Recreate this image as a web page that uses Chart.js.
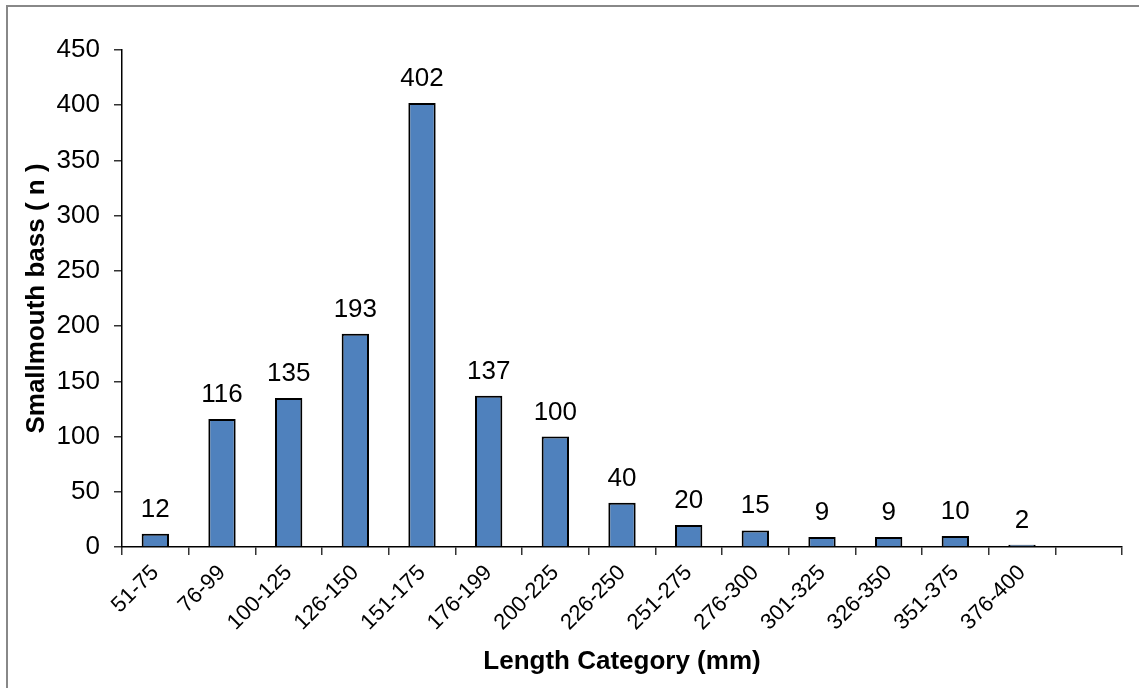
<!DOCTYPE html>
<html>
<head>
<meta charset="utf-8">
<script src="https://cdn.jsdelivr.net/npm/chart.js@4/dist/chart.umd.min.js"></script>
<style>
  html, body { margin: 0; padding: 0; background: #fff; overflow: hidden; }
  #wrap { position: relative; width: 1139px; height: 688px; }
  #frame { position: absolute; left: 6px; top: 5px; width: 1200px; height: 800px;
           border: 2px solid #888; box-sizing: border-box; pointer-events: none; }
  canvas { position: absolute; left: 0; top: 0; }
</style>
</head>
<body>
<div id="wrap">
  <canvas id="myChart" width="1139" height="688"></canvas>
  <div id="frame"></div>
</div>
<script>
let categories = ['51-75', '76-99', '100-125', '126-150', '151-175', '176-199', '200-225',
  '226-250', '251-275', '276-300', '301-325', '326-350', '351-375', '376-400', ''];
let counts = [12, 116, 135, 193, 402, 137, 100, 40, 20, 15, 9, 9, 10, 2, null];
let yTicks = [0, 50, 100, 150, 200, 250, 300, 350, 400, 450];

const FONT = '"Liberation Sans", Arial, sans-serif';

// value above each bar
const barValues = {
  id: 'barValues',
  afterDatasetsDraw(chart) {
    const ctx = chart.ctx;
    const meta = chart.getDatasetMeta(0);
    ctx.save();
    ctx.font = '26px ' + FONT;
    ctx.fillStyle = '#000';
    ctx.textAlign = 'center';
    ctx.textBaseline = 'alphabetic';
    meta.data.forEach((bar, i) => {
      if (counts[i] == null) return;
      ctx.fillText(String(counts[i]), bar.x, bar.y - 17);
    });
    ctx.restore();
  }
};

let ctx = document.getElementById('myChart').getContext('2d');
let myChart = new Chart(ctx, {
  type: 'bar',
  data: {
    labels: categories,
    datasets: [{
      data: counts,
      backgroundColor: '#4F81BD',
      borderColor: '#000',
      borderWidth: 2,
      barPercentage: 0.41,
      categoryPercentage: 1
    }]
  },
  options: {
    responsive: false,
    animation: false,
    layout: { padding: { top: 50, right: 17, left: 0, bottom: 0 } },
    plugins: {
      legend: { display: false },
      tooltip: { enabled: false }
    },
    scales: {
      x: {
        offset: true,
        afterFit: (scale) => { scale.height = 141; },
        grid: {
          offset: true,
          drawOnChartArea: false,
          drawTicks: true,
          tickLength: 8,
          color: '#333',
          lineWidth: 1.5
        },
        border: { color: '#000', width: 1.5 },
        ticks: {
          color: '#000',
          font: { family: FONT, size: 22 },
          minRotation: 45,
          maxRotation: 45,
          autoSkip: false,
          padding: 5
        },
        title: {
          display: true,
          text: 'Length Category (mm)',
          color: '#000',
          font: { family: FONT, size: 26, weight: 'bold' },
          padding: { top: 12, bottom: 11 }
        }
      },
      y: {
        min: 0,
        max: 450,
        afterFit: (scale) => { scale.width = 122; },
        afterBuildTicks: (scale) => { scale.ticks = yTicks.map(v => ({ value: v })); },
        grid: {
          drawOnChartArea: false,
          drawTicks: true,
          tickLength: 8,
          color: '#333',
          lineWidth: 1.5
        },
        border: { color: '#000', width: 1.5 },
        ticks: {
          color: '#000',
          font: { family: FONT, size: 26 },
          padding: 14
        },
        title: {
          display: true,
          text: 'Smallmouth bass ( n )',
          color: '#000',
          font: { family: FONT, size: 26, weight: 'bold' },
          padding: { top: 21, bottom: 0 }
        }
      }
    }
  },
  plugins: [barValues]
});
</script>
</body>
</html>
